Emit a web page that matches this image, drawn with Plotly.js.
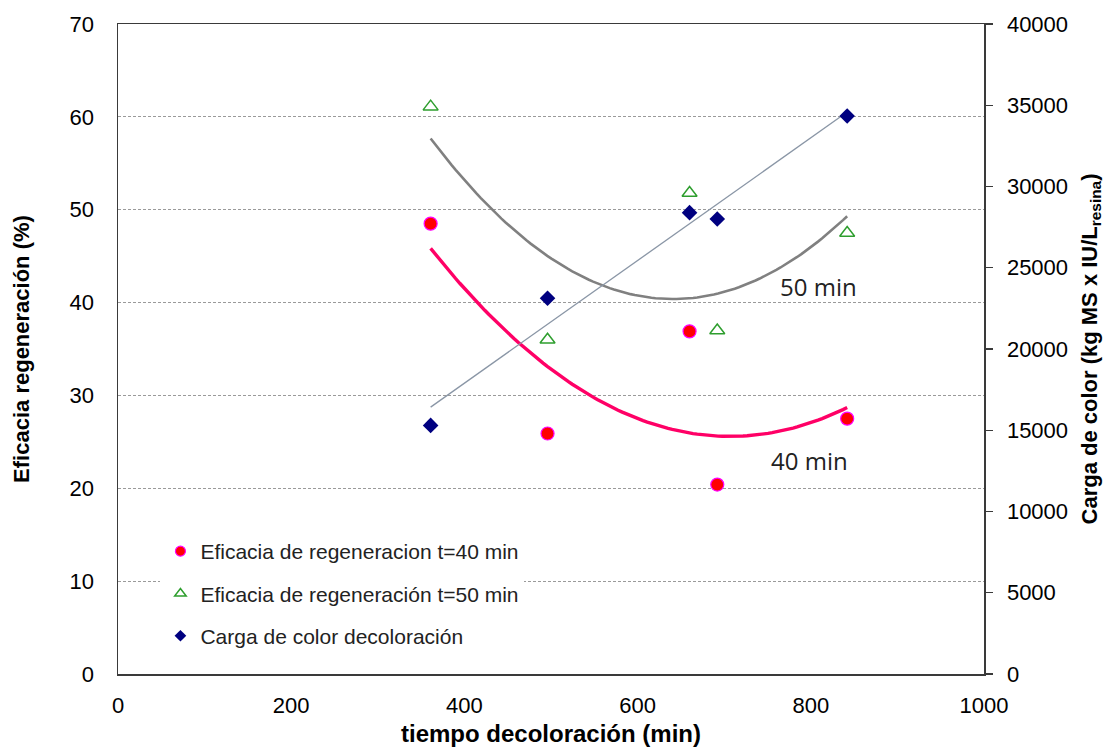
<!DOCTYPE html>
<html>
<head>
<meta charset="utf-8">
<script src="https://cdn.plot.ly/plotly-3.0.1.min.js"></script>
<style>html,body{margin:0;padding:0;background:#fff;}#chart{width:1108px;height:747px;}</style>
</head>
<body>
<div id="chart"></div>
<script>
// Data
const tiempo = [361, 496, 660, 692, 842];
const eficacia40 = [48.5, 25.9, 36.9, 20.4, 27.5];
const eficacia50 = [61.1, 36.0, 51.8, 37.0, 47.5];
const cargaColor = [15300, 23120, 28390, 28000, 34340];

const legend40 = 'Eficacia de regeneracion t=40 min';
const legend50 = 'Eficacia de regeneración t=50 min';
const legendCarga = 'Carga de color decoloración';
const label40 = '40 min';
const label50 = '50 min';

// least-squares polynomial fit (degree 1 or 2)
function polyfit(xs, ys, deg) {
  const n = deg + 1;
  const A = [];
  for (let i = 0; i < n; i++) {
    A.push([]);
    for (let j = 0; j < n; j++) {
      let s = 0;
      xs.forEach(x => { s += Math.pow(x, i + j); });
      A[i].push(s);
    }
    let b = 0;
    xs.forEach((x, k) => { b += ys[k] * Math.pow(x, i); });
    A[i].push(b);
  }
  for (let c = 0; c < n; c++) {
    let p = c;
    for (let r = c + 1; r < n; r++) if (Math.abs(A[r][c]) > Math.abs(A[p][c])) p = r;
    [A[c], A[p]] = [A[p], A[c]];
    for (let r = 0; r < n; r++) {
      if (r === c) continue;
      const f = A[r][c] / A[c][c];
      for (let k = c; k <= n; k++) A[r][k] -= f * A[c][k];
    }
  }
  return A.map((row, i) => row[n] / row[i]);
}
function evalFit(coef, xs) {
  return xs.map(x => coef.reduce((s, c, i) => s + c * Math.pow(x, i), 0));
}
const xmin = Math.min(...tiempo), xmax = Math.max(...tiempo);
const xsFit = [];
for (let i = 0; i <= 100; i++) xsFit.push(xmin + (xmax - xmin) * i / 100);

const fit40 = evalFit(polyfit(tiempo, eficacia40, 2), xsFit);
const fit50 = evalFit(polyfit(tiempo, eficacia50, 2), xsFit);
const fitCarga = evalFit(polyfit(tiempo, cargaColor, 1), [xmin, xmax]);

const m40 = {symbol: 'circle', color: '#FF0000', line: {color: '#FF00FF', width: 1.2}};
const m50 = {symbol: 'triangle-up-open', color: '#2E9E2E', line: {width: 1.5}};
const mC = {symbol: 'diamond', color: '#000080'};

const traces = [
  {x: xsFit, y: fit50, mode: 'lines', line: {color: '#808080', width: 2.6}, showlegend: false, hoverinfo: 'skip'},
  {x: xsFit, y: fit40, mode: 'lines', line: {color: '#FF0066', width: 3.4}, showlegend: false, hoverinfo: 'skip'},
  {x: [xmin, xmax], y: fitCarga, yaxis: 'y2', mode: 'lines', line: {color: '#8a96a6', width: 1.3}, showlegend: false, hoverinfo: 'skip'},
  {x: tiempo, y: eficacia40, mode: 'markers', showlegend: false, marker: Object.assign({size: 13}, m40)},
  {x: tiempo, y: eficacia50, mode: 'markers', showlegend: false, marker: Object.assign({size: 13}, m50)},
  {x: tiempo, y: cargaColor, yaxis: 'y2', mode: 'markers', showlegend: false, marker: Object.assign({size: 12}, mC)},
  // legend entries (smaller symbols, as in the reference legend)
  {x: [null], y: [null], name: legend40, legendgroup: 'a', mode: 'markers', marker: Object.assign({size: 10}, m40)},
  {x: [null], y: [null], name: legend50, legendgroup: 'b', mode: 'markers', marker: Object.assign({size: 10}, m50)},
  {x: [null], y: [null], name: legendCarga, legendgroup: 'c', mode: 'markers', marker: Object.assign({size: 9}, mC)}
];

const tickFont = {family: 'Liberation Sans, Arial, sans-serif', size: 22, color: '#000'};
const titleFont = {family: 'Liberation Sans, Arial, sans-serif', size: 22, color: '#000', weight: 'bold'};

const layout = {
  width: 1108, height: 747,
  margin: {l: 118, r: 124, t: 24, b: 73},
  paper_bgcolor: '#fff', plot_bgcolor: '#fff',
  showlegend: true,
  legend: {
    x: 0.049, y: 0.22, xanchor: 'left', yanchor: 'top',
    bgcolor: '#ffffff', borderwidth: 0,
    font: {family: 'Liberation Sans, Arial, sans-serif', size: 21, color: '#222'},
    traceorder: 'grouped', tracegroupgap: 12, itemwidth: 30
  },
  xaxis: {
    range: [0, 1000], dtick: 200, tick0: 0,
    showgrid: false, zeroline: false,
    showline: true, mirror: true, linecolor: '#3a3a3a', linewidth: 1.5,
    ticks: '', ticklabelstandoff: 11,
    tickfont: tickFont,
    title: {text: 'tiempo decoloración (min)', font: {family: 'Liberation Sans, Arial, sans-serif', size: 24, color: '#000', weight: 'bold'}, standoff: 8}
  },
  yaxis: {
    range: [0, 70], dtick: 10, tick0: 0,
    showgrid: true, gridcolor: '#9a9a9a', griddash: '3px,2px', gridwidth: 1,
    zeroline: false,
    showline: true, mirror: true, linecolor: '#3a3a3a', linewidth: 1.5,
    ticks: '', ticklabelstandoff: 18,
    tickfont: tickFont,
    title: {text: 'Eficacia regeneración (%)', font: titleFont, standoff: 34}
  },
  yaxis2: {
    overlaying: 'y', side: 'right',
    range: [0, 40000], dtick: 5000, tick0: 0, tickformat: 'd',
    showgrid: false, zeroline: false,
    showline: true, linecolor: '#3a3a3a', linewidth: 1.5,
    ticks: 'outside', ticklen: 7, tickwidth: 1.2, tickcolor: '#3a3a3a',
    ticklabelstandoff: 10,
    tickfont: tickFont,
    title: {text: 'Carga de color (kg MS x IU/L<sub>resina</sub>)', font: titleFont, standoff: 14}
  },
  annotations: [
    {x: 809, y: 41.7, xref: 'x', yref: 'y', text: label50, showarrow: false,
     font: {family: 'Open Sans, Noto Sans, sans-serif', size: 24, color: '#222'}},
    {x: 798, y: 23.0, xref: 'x', yref: 'y', text: label40, showarrow: false,
     font: {family: 'Open Sans, Noto Sans, sans-serif', size: 24, color: '#222'}}
  ]
};

Plotly.newPlot('chart', traces, layout, {displayModeBar: false, staticPlot: true});
</script>
</body>
</html>
